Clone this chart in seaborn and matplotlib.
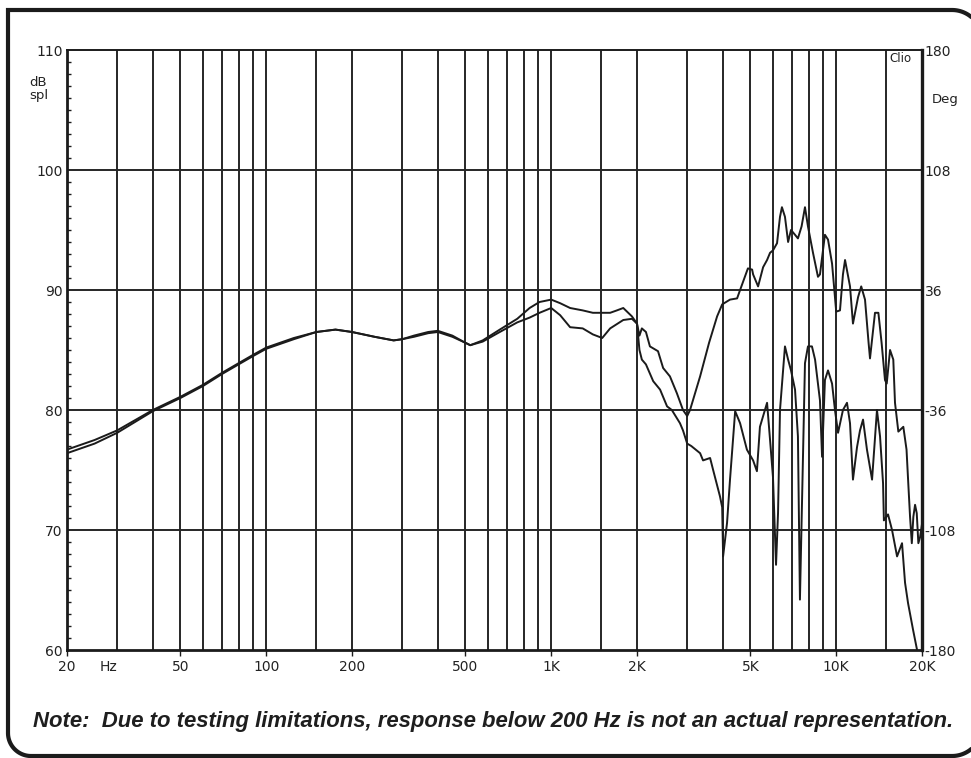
import numpy as np
import pandas as pd
import matplotlib
matplotlib.use("Agg")
import matplotlib.pyplot as plt
from matplotlib.lines import Line2D
from matplotlib.patches import Rectangle
from matplotlib.ticker import MultipleLocator, NullLocator
import seaborn as sns

# ---- frequency response traces (Hz, dB SPL) ----
freq_a = [20, 25, 30, 40, 50, 60, 70, 80, 90, 100, 125, 150, 175, 200, 240, 280, 300,
          330, 370, 400, 450, 500, 520, 575, 660, 760, 840, 910, 1000, 1075, 1165, 1290,
          1400, 1510, 1610, 1700, 1790, 1920, 2000, 2040, 2080, 2150, 2220, 2370, 2470,
          2610, 2760, 2900, 3000, 3070, 3330, 3580, 3820, 3980, 4240, 4490, 4600, 4900,
          5070, 5110, 5320, 5540, 5720, 5860, 6000, 6200, 6350, 6450, 6610, 6780, 6940,
          7170, 7340, 7560, 7770, 7960, 8290, 8630, 8770, 9130, 9360, 9670, 9900, 10000,
          10310, 10560, 10740, 11180, 11450, 11930, 12240, 12620, 12990, 13140, 13680,
          14060, 14430, 14830, 15040, 15450, 15860, 16080, 16520, 17200, 17650, 17900,
          18160, 18420, 18650, 18910, 19170, 19420, 19690, 20000]
spl_a = [76.7, 77.5, 78.3, 80.0, 81.1, 82.1, 83.1, 83.9, 84.6, 85.2, 86.0, 86.5, 86.7, 86.5,
         86.1, 85.8, 85.9, 86.1, 86.4, 86.5, 86.1, 85.6, 85.4, 85.8, 86.7, 87.6, 88.5, 89.0,
         89.2, 88.9, 88.5, 88.3, 88.1, 88.1, 88.1, 88.3, 88.5, 87.8, 87.2, 86.2, 86.8, 86.5,
         85.3, 84.9, 83.5, 82.8, 81.4, 80.0, 79.5, 80.0, 82.8, 85.6, 87.8, 88.8, 89.2, 89.3,
         90.0, 91.8, 91.7, 91.3, 90.3, 91.9, 92.5, 93.1, 93.3, 93.9, 96.1, 96.9, 96.1, 94.0,
         95.0, 94.6, 94.3, 95.3, 96.9, 95.3, 93.1, 91.1, 91.3, 94.6, 94.2, 92.2, 89.4, 88.2,
         88.3, 91.3, 92.5, 90.3, 87.2, 89.4, 90.3, 89.2, 85.6, 84.3, 88.1, 88.1, 85.6, 82.5,
         82.2, 85.0, 84.2, 80.6, 78.2, 78.6, 76.7, 73.9, 71.1, 68.9, 71.1, 72.1, 71.4, 68.9,
         69.4, 70.5]

freq_b = [20, 25, 30, 40, 50, 60, 70, 80, 90, 100, 125, 150, 175, 200, 240, 280, 300,
          330, 370, 400, 450, 500, 520, 575, 660, 760, 840, 910, 1000, 1075, 1165, 1290,
          1400, 1510, 1610, 1790, 1920, 2000, 2040, 2080, 2150, 2280, 2410, 2550, 2650,
          2830, 2900, 3000, 3100, 3330, 3410, 3610, 3700, 3910, 3980, 4010, 4140, 4240,
          4420, 4600, 4860, 5110, 5270, 5400, 5720, 5860, 6000, 6150, 6250, 6350, 6510,
          6610, 6780, 6940, 7170, 7340, 7460, 7770, 7960, 8220, 8430, 8770, 8920, 9130,
          9360, 9670, 9900, 10150, 10560, 10910, 11180, 11450, 11830, 12120, 12420, 12820,
          13360, 13900, 14250, 14600, 14700, 15200, 15700, 16350, 17020, 17440, 17870,
          18600, 19220, 20000]
spl_b = [76.4, 77.2, 78.1, 79.9, 81.0, 82.0, 83.0, 83.8, 84.5, 85.1, 85.9, 86.5, 86.7, 86.5,
         86.1, 85.8, 85.9, 86.2, 86.5, 86.6, 86.2, 85.6, 85.4, 85.7, 86.5, 87.3, 87.7, 88.1,
         88.5, 87.9, 86.9, 86.8, 86.3, 86.0, 86.8, 87.5, 87.6, 87.2, 85.0, 84.2, 83.8, 82.4,
         81.7, 80.3, 80.0, 78.9, 78.3, 77.2, 77.0, 76.4, 75.8, 76.0, 75.0, 72.8, 71.9, 67.8,
         70.6, 74.2, 79.9, 78.9, 76.7, 75.8, 74.9, 78.6, 80.6, 77.5, 74.4, 67.1, 71.4, 80.0,
         83.3, 85.3, 84.2, 83.3, 81.7, 77.8, 64.2, 83.9, 85.3, 85.3, 84.2, 80.8, 76.1, 82.5,
         83.3, 82.2, 80.0, 78.1, 80.0, 80.6, 78.9, 74.2, 76.9, 78.3, 79.2, 76.7, 74.2, 80.0,
         77.8, 73.9, 70.8, 71.3, 70.0, 67.8, 68.9, 65.6, 63.9, 61.7, 60.0, 59.0]

# ---- axes furniture ----
grid_freqs = [30, 40, 50, 60, 70, 80, 90, 100, 150, 200, 300, 400, 500, 600, 700, 800, 900,
              1000, 1500, 2000, 3000, 4000, 5000, 6000, 7000, 8000, 9000, 10000, 15000]
grid_db = [70, 80, 90, 100]
x_ticks = [20, 50, 100, 200, 500, 1000, 2000, 5000, 10000, 20000]
x_labels = ["20", "50", "100", "200", "500", "1K", "2K", "5K", "10K", "20K"]
db_ticks = [60, 70, 80, 90, 100, 110]
db_labels = ["60", "70", "80", "90", "100", "110"]
deg_ticks = [-180, -108, -36, 36, 108, 180]
deg_labels = ["-180", "-108", "-36", "36", "108", "180"]

sns.set_theme(style="white")
plt.rcParams["font.family"] = ["DejaVu Sans"]
plt.rcParams["figure.edgecolor"] = "white"
plt.rcParams["savefig.edgecolor"] = "white"

W, H = 971, 758
INK = "#1b1b1b"
fig = plt.figure(figsize=(W / 100, H / 100), dpi=100)
fig.patch.set_facecolor("white")
fig.patch.set_edgecolor("white")
fig.patch.set_linewidth(0)
ax = fig.add_axes([67 / W, 108 / H, 855 / W, 600 / H])
ax.set_facecolor("white")

for f in grid_freqs:
    ax.axvline(f, color="#262626", lw=1.4, zorder=1)
for d in grid_db:
    ax.axhline(d, color="#262626", lw=1.4, zorder=1)

df = pd.concat([
    pd.DataFrame({"freq": freq_a, "spl": spl_a, "trace": "a"}),
    pd.DataFrame({"freq": freq_b, "spl": spl_b, "trace": "b"}),
], ignore_index=True)
sns.lineplot(data=df, x="freq", y="spl", units="trace", estimator=None, sort=False,
             color=INK, lw=1.4, ax=ax, legend=False, zorder=3)

ax.set_xscale("log")
ax.set_xlim(20, 20000)
ax.set_ylim(60, 110)
ax.set_xlabel("")
ax.set_ylabel("")

ax.set_xticks(x_ticks)
ax.set_xticklabels(x_labels)
ax.xaxis.set_minor_locator(NullLocator())
ax.tick_params(axis="x", which="major", direction="out", length=4, width=1.0,
               color=INK, pad=3, labelsize=10, labelcolor="#222222", bottom=True)

ax.set_yticks(db_ticks)
ax.set_yticklabels(db_labels)
ax.yaxis.set_minor_locator(MultipleLocator(1))
ax.tick_params(axis="y", which="major", length=0, pad=3, labelsize=10, labelcolor="#222222")
ax.tick_params(axis="y", which="minor", direction="in", length=3, width=1.0, color=INK,
               left=True, right=True)

for side, lw in (("left", 2.0), ("bottom", 2.0), ("right", 2.4), ("top", 1.4)):
    ax.spines[side].set_visible(True)
    ax.spines[side].set_color(INK)
    ax.spines[side].set_linewidth(lw)
    ax.spines[side].set_zorder(4)

ax2 = ax.twinx()
ax2.set_ylim(-180, 180)
ax2.set_yticks(deg_ticks)
ax2.set_yticklabels(deg_labels)
ax2.tick_params(axis="y", length=0, pad=2, labelsize=10, labelcolor="#222222")
ax2.yaxis.set_minor_locator(NullLocator())
for s in ax2.spines.values():
    s.set_visible(False)
ax2.grid(False)

# axis captions
fig.text(29 / W, 1 - 76 / H, "dB\nspl", ha="left", va="top", fontsize=9.5,
         linespacing=0.95, color="#222222")
fig.text(932 / W, 1 - 100 / H, "Deg", ha="left", va="center", fontsize=9.5, color="#222222")
fig.text(900 / W, 1 - 58 / H, "Clio", ha="center", va="center", fontsize=8.5, color="#222222")
fig.text(108 / W, 1 - 667 / H, "Hz", ha="center", va="center", fontsize=10, color="#222222")

fig.text(493 / W, 1 - 721 / H,
         "Note:  Due to testing limitations, response below 200 Hz is not an actual representation.",
         ha="center", va="center", fontsize=15.9, fontweight="bold", fontstyle="italic",
         family=["Liberation Sans", "DejaVu Sans"], color="#1e1e1e")

# outer frame: square top-left corner, rounded elsewhere; the right side runs off the canvas
def arc(cx, cy, r, a0, a1, n=40):
    t = np.radians(np.linspace(a0, a1, n))
    return list(zip(cx + r * np.cos(t), cy + r * np.sin(t)))

top_right = [p for p in arc(952, 40, 30, 0, -90) if p[0] <= 972]
bottom_right = [p for p in arc(952, 726, 30, 90, 0) if p[0] <= 972]
pts = top_right + [(8, 10), (8, 733)] + arc(31, 733, 23, 180, 90) + [(952, 756)] + bottom_right
fx = [x / W for x, _ in pts]
fy = [1 - y / H for _, y in pts]
fig.add_artist(Line2D(fx, fy, transform=fig.transFigure, color=INK, lw=3.0,
                      solid_joinstyle="miter", solid_capstyle="butt"))

# keep the open right margin clear between the two rounded corners
fig.add_artist(Rectangle((963 / W, 1 - 740 / H), 20 / W, 712 / H, transform=fig.transFigure,
                         facecolor="white", edgecolor="none", zorder=10))

fig.savefig("out.png", dpi=100, facecolor="white", edgecolor="white")
